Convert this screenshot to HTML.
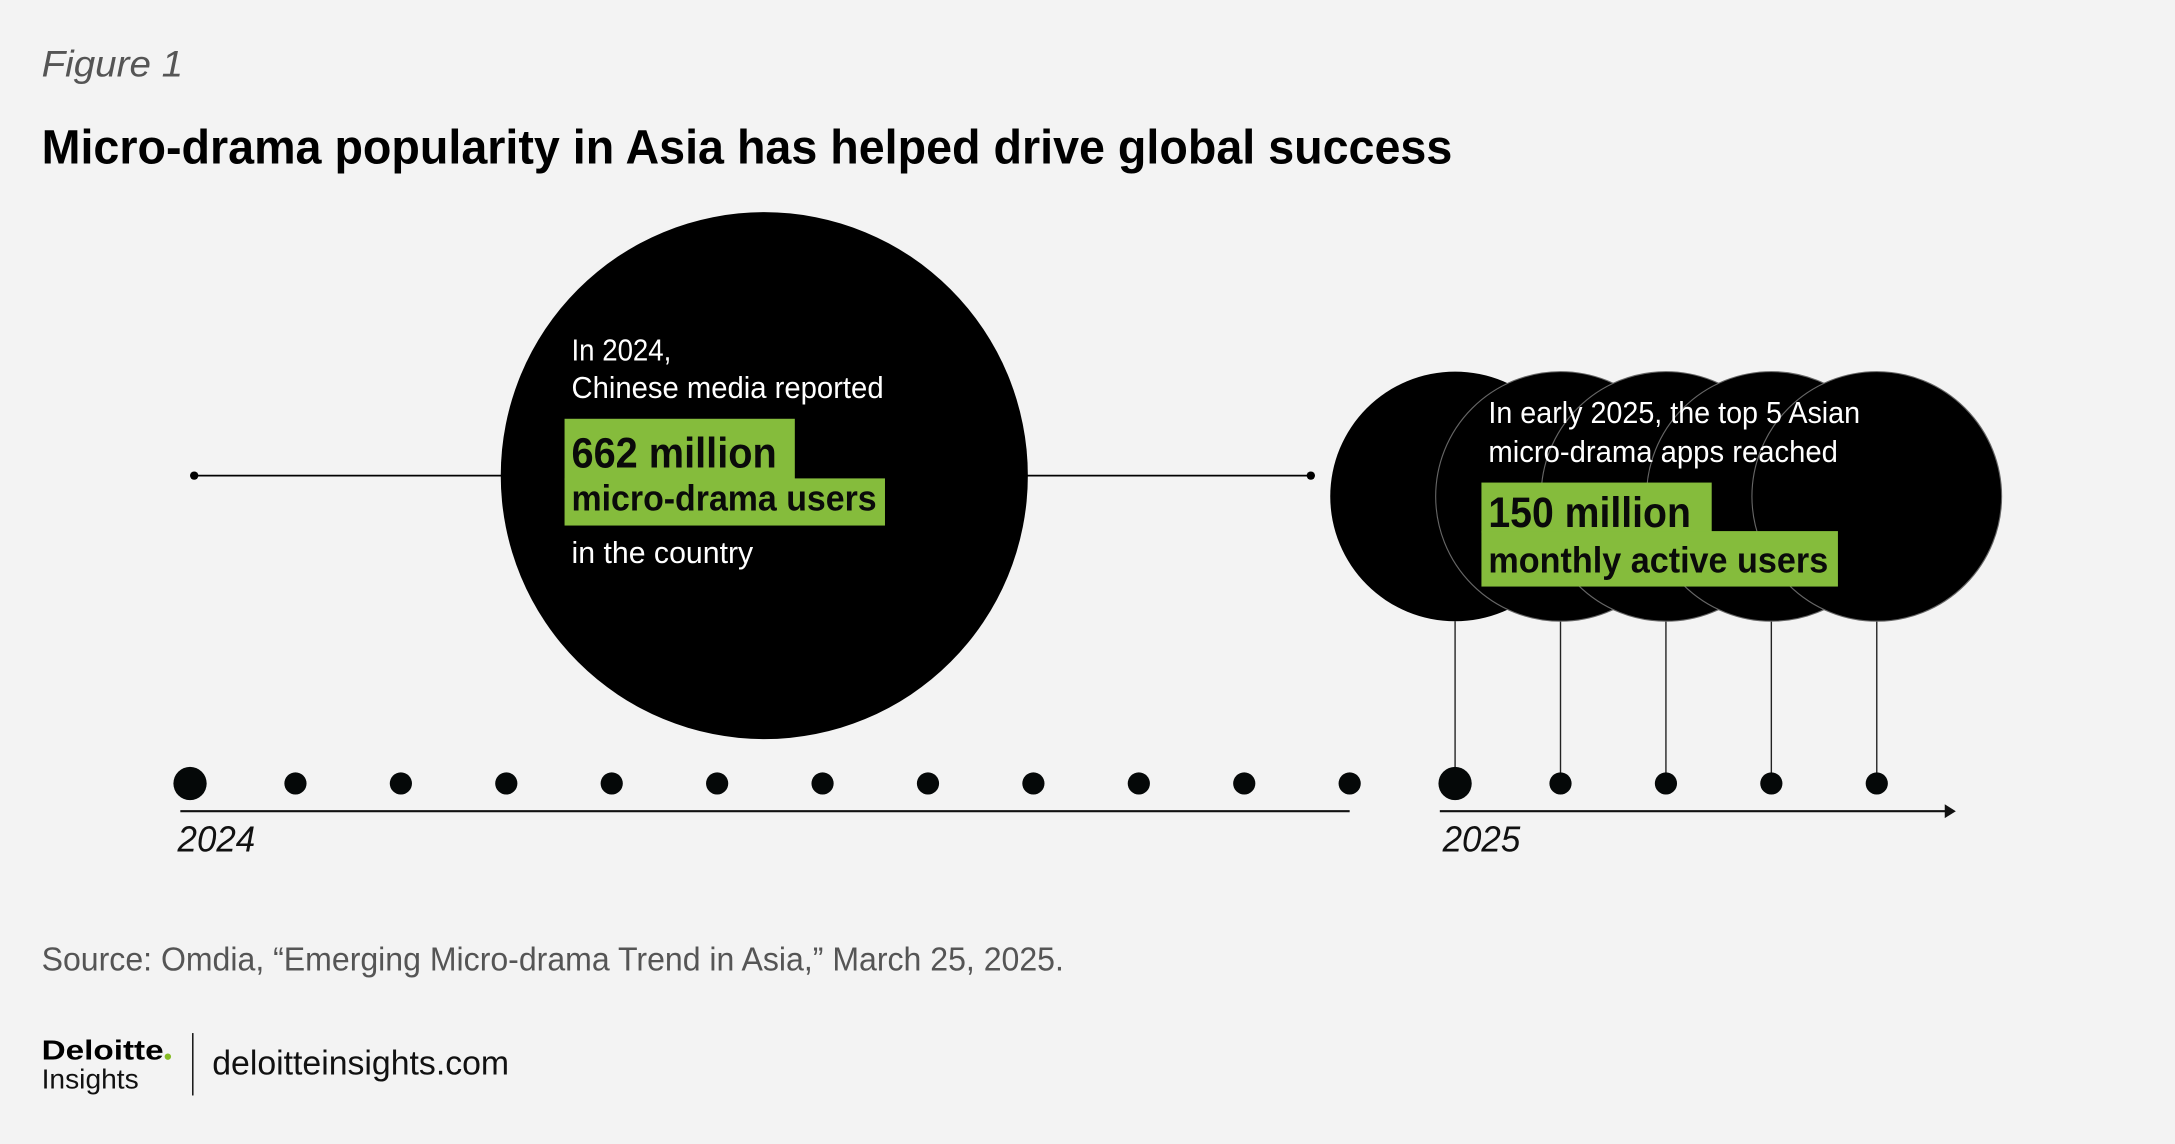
<!DOCTYPE html>
<html><head><meta charset="utf-8"><style>
html,body{margin:0;padding:0;background:#f3f3f3;}
svg{display:block;}
text{font-family:"Liberation Sans",sans-serif;}
</style></head><body>
<svg id="chart" width="2175" height="1144" viewBox="0 0 1568 825" preserveAspectRatio="none" xmlns="http://www.w3.org/2000/svg">
<rect width="1568" height="825" fill="#f3f3f3"/>
<text x="30" y="55" font-family="Liberation Serif" font-style="italic" font-size="27" fill="#555" textLength="102" lengthAdjust="spacingAndGlyphs">Figure 1</text>
<text x="30" y="118" font-weight="bold" font-size="35" fill="#000" textLength="1017" lengthAdjust="spacingAndGlyphs">Micro-drama popularity in Asia has helped drive global success</text>

<line x1="140" y1="343" x2="945" y2="343" stroke="#000" stroke-width="1.2"/>
<circle cx="140" cy="343" r="3" fill="#000"/>
<circle cx="945" cy="343" r="3" fill="#000"/>
<circle cx="551" cy="343" r="190" fill="#000"/>
<text x="412" y="260" font-size="22" fill="#fff" textLength="72" lengthAdjust="spacingAndGlyphs">In 2024,</text>
<text x="412" y="287" font-size="22" fill="#fff" textLength="225" lengthAdjust="spacingAndGlyphs">Chinese media reported</text>
<rect x="407" y="302" width="166" height="44" fill="#85bc3c"/>
<rect x="407" y="345" width="231" height="34" fill="#85bc3c"/>
<text x="412" y="337" font-size="31" font-weight="bold" fill="#0a0a0a" textLength="148" lengthAdjust="spacingAndGlyphs">662 million</text>
<text x="412" y="368" font-size="26" font-weight="bold" fill="#0a0a0a" textLength="220" lengthAdjust="spacingAndGlyphs">micro-drama users</text>
<text x="412" y="406" font-size="22" fill="#fff" textLength="131" lengthAdjust="spacingAndGlyphs">in the country</text>

<g id="apps"></g>
<g id="timeline"></g>

<text x="30" y="700" font-size="24" fill="#555" textLength="737" lengthAdjust="spacingAndGlyphs">Source: Omdia, “Emerging Micro-drama Trend in Asia,” March 25, 2025.</text>
<text x="30" y="764" font-size="20" font-weight="bold" fill="#000" textLength="88" lengthAdjust="spacingAndGlyphs">Deloitte</text>
<circle cx="121" cy="762" r="2.3" fill="#86bc25"/>
<text x="30" y="785" font-size="20" fill="#111" textLength="70" lengthAdjust="spacingAndGlyphs">Insights</text>
<line x1="139" y1="745" x2="139" y2="790" stroke="#000" stroke-width="1"/>
<text x="153" y="775" font-size="25" fill="#111" textLength="214" lengthAdjust="spacingAndGlyphs">deloitteinsights.com</text>
</svg>
<script>
const months2024 = ["Jan","Feb","Mar","Apr","May","Jun","Jul","Aug","Sep","Oct","Nov","Dec"];
const months2025 = ["Jan","Feb","Mar","Apr","May"];
const appBubbles = [1,1,1,1,1];
const yearLabels = ["2024","2025"];

const NS = "http://www.w3.org/2000/svg";
const step = 76;
const x2024 = i => 137 + i * step;
const x2025 = i => 1049 + i * step;
const dotY = 565;
function mk(tag, attrs, parent){const e=document.createElementNS(NS,tag);for(const k in attrs)e.setAttribute(k,attrs[k]);parent.appendChild(e);return e;}
const apps = document.getElementById('apps');
const tl = document.getElementById('timeline');

appBubbles.forEach((v,i)=>{
  const l = mk('line',{x1:x2025(i),y1:448,x2:x2025(i),y2:dotY,stroke:'#222','stroke-width':1},apps);
  
  
});
appBubbles.forEach((v,i)=>{
  const c = mk('circle',{cx:x2025(i),cy:358,r:90*v,fill:'#000',stroke:i?'#666':'none','stroke-width':0.8},apps);
  
  
});
const tx=[["In early 2025, the top 5 Asian",305,22,'#fff','normal',268],["micro-drama apps reached",333,22,'#fff','normal',252]];
tx.forEach(t=>{const e=mk('text',{x:1073,y:t[1],'font-size':t[2],fill:t[3],textLength:t[5],lengthAdjust:'spacingAndGlyphs'},apps);e.textContent=t[0];
  
  });
let r1=mk('rect',{x:1068,y:348,width:166,height:36,fill:'#85bc3c'},apps);


let r2=mk('rect',{x:1068,y:383,width:257,height:40,fill:'#85bc3c'},apps);


let s1=mk('text',{x:1073,y:380,'font-size':31,'font-weight':'bold',fill:'#0a0a0a',textLength:146,lengthAdjust:'spacingAndGlyphs'},apps);s1.textContent="150 million";


let s2=mk('text',{x:1073,y:413,'font-size':26,'font-weight':'bold',fill:'#0a0a0a',textLength:245,lengthAdjust:'spacingAndGlyphs'},apps);s2.textContent="monthly active users";



months2024.forEach((m,i)=>{
  const d=mk('circle',{cx:x2024(i),cy:dotY,r:i===0?12:8,fill:'#050808'},tl);
  
  
});
months2025.forEach((m,i)=>{
  const d=mk('circle',{cx:x2025(i),cy:dotY,r:i===0?12:8,fill:'#050808'},tl);
  
  
});
let a1=mk('line',{x1:130,y1:585,x2:x2024(months2024.length-1),y2:585,stroke:'#111','stroke-width':1.5},tl);


let a2=mk('line',{x1:1038,y1:585,x2:1405,y2:585,stroke:'#111','stroke-width':1.5},tl);


let ar=mk('path',{d:'M1402,580 L1410,585 L1402,590 Z',fill:'#111'},tl);


[[128,yearLabels[0]],[1040,yearLabels[1]]].forEach(p=>{
  const t=mk('text',{x:p[0],y:614,'font-size':26,'font-style':'italic',fill:'#111',textLength:56,lengthAdjust:'spacingAndGlyphs'},tl);
  t.textContent=p[1];
  
  
});
</script>
</body></html>
